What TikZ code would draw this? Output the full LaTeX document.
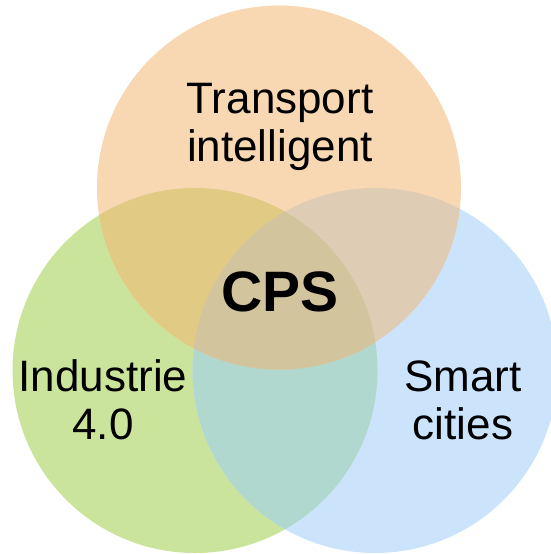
\documentclass[tikz,border=0pt]{standalone}
\usepackage{fontspec}
\setmainfont{Liberation Sans}
\definecolor{cOr}{HTML}{F8D7B3}
\definecolor{cGr}{HTML}{CBE49B}
\definecolor{cBl}{HTML}{CBE4FB}
\definecolor{cGB}{HTML}{B1D8CE}
\definecolor{cOG}{HTML}{E1CA83}
\definecolor{cOB}{HTML}{DFCCB5}
\definecolor{cOGB}{HTML}{D2C49D}
\tikzset{
  lbl/.style={anchor=base, inner sep=0pt, font=\fontsize{44}{48}\selectfont},
  big/.style={anchor=base, inner sep=0pt, font=\fontsize{57}{60}\selectfont\bfseries}
}
\begin{document}
\begin{tikzpicture}[x=1pt,y=-1pt]
\useasboundingbox (0,0) rectangle (551,554);
\clip (0,0) rectangle (551,554);
\coordinate (O) at (279,187.5);
\coordinate (G) at (195,370.5);
\coordinate (B) at (375,370.5);
\def\rO{182}
\def\rG{182.5}
% single circles
\fill[cGr] (G) circle[radius=\rG];
\fill[cBl] (B) circle[radius=\rG];
\fill[cOr] (O) circle[radius=\rO];
% green & blue
\begin{scope}
  \clip (G) circle[radius=\rG];
  \fill[cGB] (B) circle[radius=\rG];
\end{scope}
% orange & green
\begin{scope}
  \clip (O) circle[radius=\rO];
  \fill[cOG] (G) circle[radius=\rG];
  \fill[cOB] (B) circle[radius=\rG];
  \clip (G) circle[radius=\rG];
  \fill[cOGB] (B) circle[radius=\rG];
\end{scope}
% labels
\node[lbl] (t1) at (280,113) {Transport};
\node[lbl] (t2) at (280,161.5) {intelligent};
\node[big] (cps) at (280,311) {CPS};
\node[lbl] (i1) at (103,391) {Industrie};
\node[lbl] (i2) at (103,439.5) {4.0};
\node[lbl] (s1) at (463,391) {Smart};
\node[lbl] (s2) at (463,439.5) {cities};
\end{tikzpicture}
\end{document}
